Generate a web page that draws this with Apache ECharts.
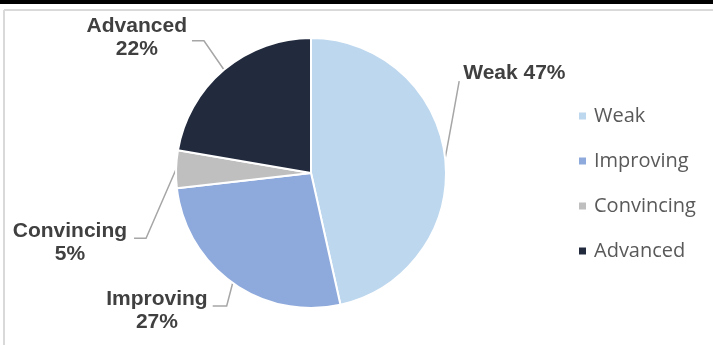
<!DOCTYPE html>
<html>
<head>
<meta charset="utf-8">
<script src="https://cdn.jsdelivr.net/npm/echarts@6/dist/echarts.min.js"></script>
<style>
  html, body { margin: 0; padding: 0; background: #fff; }
  #chart-container { width: 713px; height: 345px; }
</style>
</head>
<body>
<div id="chart-container"></div>
<script>
// values (share of pupils, %)
var levels = ["Weak", "Improving", "Convincing", "Advanced"];
var shares = [46.5, 26.7, 4.5, 22.3];
var colors = ["#BDD7EE", "#8EA9DB", "#BFBFBF", "#222A3E"];

// where each label sits, relative to the point where its leader line leaves the pie
// [edge x offset, centre y offset], edge = left edge for right-side labels, right edge otherwise
var labelPos = [[18, -85], [-25, 28], [-49, 74], [-37, -32]];
// leader line bends, relative to the same point
var lineBends = [
  [[7, -38], [14, -77]],
  [[-6, 23], [-20, 23]],
  [[-30, 69], [-42, 69]],
  [[-20, -29], [-32, -29]]
];

var dom = document.getElementById("chart-container");
var myChart = echarts.init(dom, null, { renderer: "canvas" });

var data = levels.map(function (name, i) {
  return { name: name, value: shares[i], itemStyle: { color: colors[i] } };
});

var option = {
  animation: false,
  graphic: [
    { type: "rect", shape: { x: 0, y: 0, width: 713, height: 4 }, style: { fill: "#000" } },
    { type: "line", shape: { x1: 4, y1: 10, x2: 713, y2: 10 }, style: { stroke: "#D9D9D9", lineWidth: 2 } },
    { type: "line", shape: { x1: 4, y1: 10, x2: 4, y2: 345 }, style: { stroke: "#D9D9D9", lineWidth: 2 } }
  ],
  legend: {
    orient: "vertical",
    left: 572,
    top: 101,
    icon: "rect",
    itemWidth: 9,
    itemHeight: 9,
    itemGap: 25,
    textStyle: {
      fontFamily: "Open Sans",
      fontSize: 20,
      lineHeight: 20,
      color: "#595959",
      padding: [0, 0, 0, 2]
    },
    data: levels
  },
  series: [
    {
      type: "pie",
      center: [311, 173],
      radius: 135,
      startAngle: 90,
      clockwise: true,
      avoidLabelOverlap: false,
      itemStyle: { borderColor: "#fff", borderWidth: 2 },
      label: {
        show: true,
        position: "outside",
        fontFamily: "Liberation Sans",
        fontWeight: "bold",
        fontSize: 21,
        lineHeight: 23,
        color: "#404040",
        align: "center",
        formatter: function (p) {
          var pct = Math.round(p.value) + "%";
          return p.dataIndex === 0 ? p.name + " " + pct : p.name + "\n" + pct;
        }
      },
      labelLine: {
        show: true,
        smooth: false,
        lineStyle: { color: "#A6A6A6", width: 1.5 }
      },
      labelLayout: function (params) {
        var i = params.dataIndex;
        var a = params.labelLinePoints[0];
        var w = params.labelRect.width;
        var pos = labelPos[i];
        var cx = pos[0] > 0 ? a[0] + pos[0] + w / 2 : a[0] + pos[0] - w / 2;
        var b = lineBends[i];
        return {
          x: cx,
          y: a[1] + pos[1],
          align: "center",
          verticalAlign: "middle",
          labelLinePoints: [
            [a[0], a[1]],
            [a[0] + b[0][0], a[1] + b[0][1]],
            [a[0] + b[1][0], a[1] + b[1][1]]
          ]
        };
      },
      emphasis: { disabled: true },
      data: data
    }
  ]
};

myChart.setOption(option);
window.addEventListener("resize", myChart.resize);
</script>
</body>
</html>
